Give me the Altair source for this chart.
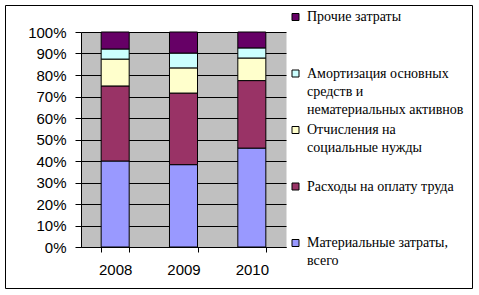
import altair as alt
import pandas as pd

years = ["2008", "2009", "2010"]
series = [
    "Материальные затраты, всего",
    "Расходы на оплату труда",
    "Отчисления на социальные нужды",
    "Амортизация основных средств и нематериальных активнов",
    "Прочие затраты",
]
legend_labels = [
    "Материальные затраты,\nвсего",
    "Расходы на оплату труда",
    "Отчисления на\nсоциальные нужды",
    "Амортизация основных\nсредств и\nнематериальных активнов",
    "Прочие затраты",
]
colors = ["#9999FF", "#993366", "#FFFFCC", "#CCFFFF", "#660066"]

materials = [40.0, 38.3, 46.0]
labor = [34.9, 33.3, 31.4]
social = [12.5, 11.7, 10.5]
amort = [4.7, 6.9, 4.7]
other = [7.9, 9.8, 7.4]

values = [materials, labor, social, amort, other]
rows = []
for si, s in enumerate(series):
    for yi, y in enumerate(years):
        rows.append({"year": y, "series": s, "idx": si, "value": values[si][yi]})
df = pd.DataFrame(rows)

ldf = pd.DataFrame({"series": series, "label": legend_labels})
legend_order = list(reversed(series))

color_scale = alt.Scale(domain=series, range=colors)

bars = alt.Chart(df).mark_bar(stroke="black", strokeWidth=1, strokeOpacity=1).encode(
    x=alt.X(
        "year:N",
        sort=years,
        scale=alt.Scale(paddingInner=0.59, paddingOuter=0.295),
        axis=alt.Axis(title=None, labelAngle=0, tickBand="extent", grid=False,
                      tickSize=5, labelPadding=10),
    ),
    y=alt.Y(
        "value:Q",
        stack="normalize",
        scale=alt.Scale(domain=[0, 1]),
        axis=alt.Axis(title=None, format=".0%", values=[i / 10 for i in range(11)],
                      grid=True, tickSize=6, labelPadding=9),
    ),
    color=alt.Color("series:N", scale=color_scale, legend=None),
    order=alt.Order("idx:Q"),
)

ly = alt.Y("series:N", scale=alt.Scale(type="point", domain=legend_order, range=[-15, 211], padding=0), axis=None)

squares = alt.Chart(ldf).mark_square(size=49, stroke="black", strokeWidth=1, opacity=1).encode(
    x=alt.value(214.5),
    y=ly,
    color=alt.Color("series:N", scale=color_scale, legend=None),
)

texts = alt.Chart(ldf).mark_text(
    align="left", baseline="alphabetic", dy=4, font="Liberation Serif",
    fontSize=14, lineBreak="\n", lineHeight=18, color="black",
).encode(
    x=alt.value(226),
    y=ly,
    text="label:N",
)

border = alt.Chart(pd.DataFrame({"a": [0]})).mark_rect(
    fill="transparent", stroke="black", strokeWidth=1
).encode(
    x=alt.value(-75.5), x2=alt.value(391.5), y=alt.value(-26.5), y2=alt.value(256.5)
)

chart = alt.layer(bars, squares, texts, border).resolve_scale(y="independent").properties(
    width=205,
    height=215,
    autosize=alt.AutoSizeParams(type="none"),
    padding={"left": 81, "top": 32, "right": 193, "bottom": 48},
).configure_view(
    fill="#C0C0C0", stroke="transparent"
).configure_axis(
    labelFont="Liberation Sans", labelFontSize=15, labelColor="black",
    domainColor="black", tickColor="black", gridColor="black", gridOpacity=1,
)

chart.save("out.html", embed_options={"renderer": "svg", "actions": False})
